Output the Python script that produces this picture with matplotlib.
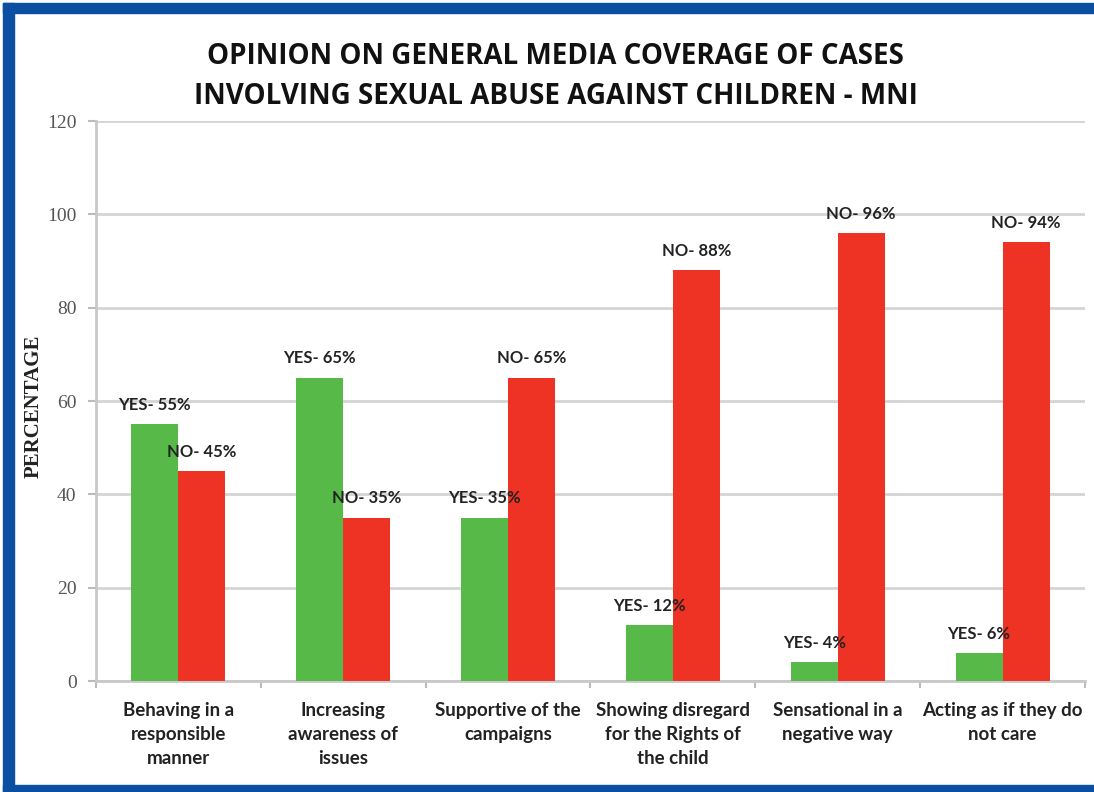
import numpy as np
import matplotlib
matplotlib.use("Agg")
from matplotlib import pyplot as plt
from matplotlib.patches import Rectangle

# data
categories = ["Behaving in a\nresponsible\nmanner",
              "Increasing\nawareness of\nissues",
              "Supportive of the\ncampaigns",
              "Showing disregard\nfor the Rights of\nthe child",
              "Sensational in a\nnegative way",
              "Acting as if they do\nnot care"]
yes_vals = [55, 65, 35, 12, 4, 6]
no_vals = [45, 35, 65, 88, 96, 94]
yticks = [0, 20, 40, 60, 80, 100, 120]

green = "#57b947"
red = "#ee3224"
blue = "#0a4fa2"
grid_col = "#d4d4d4"

W, H = 1094, 792
fig = plt.figure(figsize=(W / 100, H / 100), dpi=100)
ax = fig.add_axes([96 / W, 1 - 681 / H, (1085 - 96) / W, (681 - 121) / H])

x = np.arange(len(categories))
bw = 0.285
ax.bar(x - bw / 2, yes_vals, bw, color=green, zorder=3)
ax.bar(x + bw / 2, no_vals, bw, color=red, zorder=3)

for xi, v in zip(x, yes_vals):
    ax.annotate("YES- %d%%" % v, (xi - bw / 2, v), xytext=(0, 14),
                textcoords="offset points", ha="center", va="center",
                fontsize=12, fontweight="bold", family="Lato", color="#222222", zorder=4)
for xi, v in zip(x, no_vals):
    ax.annotate("NO- %d%%" % v, (xi + bw / 2, v), xytext=(0, 14),
                textcoords="offset points", ha="center", va="center",
                fontsize=12, fontweight="bold", family="Lato", color="#222222", zorder=4)

ax.set_xlim(-0.5, len(categories) - 0.5)
ax.set_ylim(0, 120)
ax.set_yticks(yticks)
ax.set_yticklabels([str(t) for t in yticks], family="Liberation Serif",
                   fontsize=14, color="#555555")
ax.yaxis.grid(True, color=grid_col, linewidth=2, zorder=0)
ax.set_axisbelow(True)

ax.set_xticks(x)
ax.set_xticklabels(categories, family="Lato", fontweight="bold", fontsize=13.5,
                   color="#222222", linespacing=1.5)
ax.set_xticks(np.arange(-0.5, len(categories)), minor=True)
ax.tick_params(axis="x", which="major", length=0, pad=15)
ax.tick_params(axis="x", which="minor", length=5, color="#bbbbbb", width=1.5)
ax.tick_params(axis="y", length=6, color="#bbbbbb", width=1.5, pad=8)

for s in ["top", "right"]:
    ax.spines[s].set_visible(False)
for s in ["left", "bottom"]:
    ax.spines[s].set_color("#c8c8c8")
    ax.spines[s].set_linewidth(2)

ax.set_ylabel("PERCENTAGE", family="Liberation Serif", fontweight="bold",
              fontsize=15, color="#222222")
ax.yaxis.set_label_coords(-0.053, 0.49)

fig.text(0.508, 1 - 76 / H,
         "OPINION ON GENERAL MEDIA COVERAGE OF CASES\nINVOLVING SEXUAL ABUSE AGAINST CHILDREN - MNI",
         ha="center", va="center", family="Open Sans", fontweight="bold",
         fontsize=20, color="#111111", linespacing=1.5)

# blue frame
fig.patches.append(Rectangle((3 / W, 1 - 13 / H), 1, 10 / H, color=blue,
                             transform=fig.transFigure, figure=fig))
fig.patches.append(Rectangle((3 / W, 0), 11 / W, 1 - 3 / H, color=blue,
                             transform=fig.transFigure, figure=fig))
fig.patches.append(Rectangle((3 / W, 0), 1, 7 / H, color=blue,
                             transform=fig.transFigure, figure=fig))

fig.savefig("out.png", dpi=100)
